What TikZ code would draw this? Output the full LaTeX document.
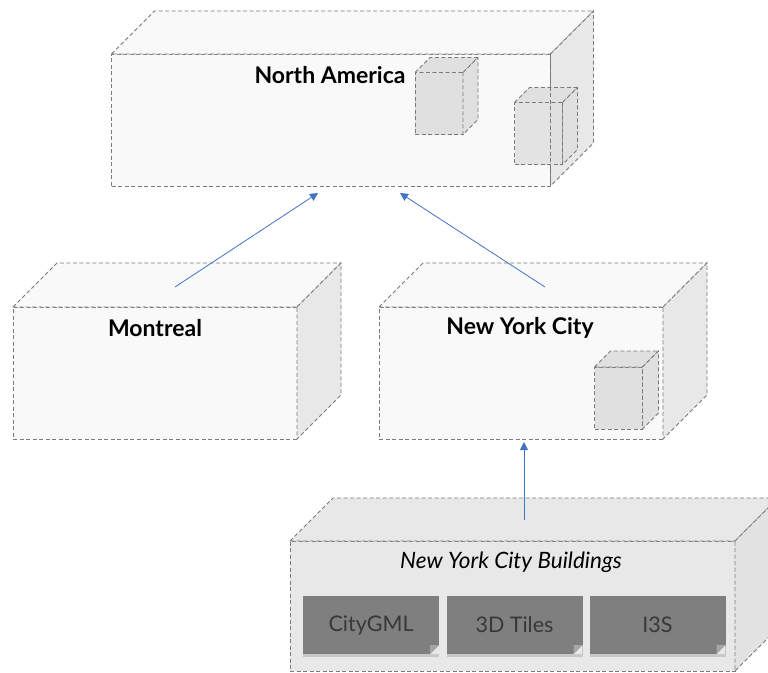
\documentclass[tikz,border=0pt]{standalone}
\usepackage{fontspec}
\setmainfont{Lato}
\usetikzlibrary{calc,shadows,arrows.meta}
\definecolor{edge}{HTML}{7A7A7A}
\definecolor{frontc}{HTML}{F9F9F9}
\definecolor{sidec}{HTML}{E8E8E8}
\definecolor{cubec}{HTML}{E0E0E0}
\definecolor{bldc}{HTML}{E8E8E8}
\definecolor{bldside}{HTML}{E2E2E2}
\definecolor{cardc}{HTML}{7F7F7F}
\definecolor{foldc}{HTML}{A6A6A6}
\definecolor{arrowc}{HTML}{4472C4}
\tikzset{
  x=1pt,y=-1pt,
  edgeline/.style={draw=edge,line width=0.9pt,dash pattern=on 4pt off 2.5pt},
  front/.style={edgeline,fill=frontc,inner sep=0pt,outer sep=0pt},
  minicube/.style={edgeline,fill=cubec,inner sep=0pt,outer sep=0pt,minimum width=48pt,minimum height=62pt},
  title/.style={font=\fontsize{23}{27}\selectfont\bfseries,text=black},
  card/.style={fill=cardc,inner sep=0pt,outer sep=0pt,minimum width=136pt,minimum height=58pt,
    text=black!78,font=\fontsize{21.5}{25}\selectfont,
    drop shadow={shadow xshift=0pt,shadow yshift=-3pt,opacity=0.3}},
  link/.style={draw=arrowc,line width=0.8pt,-{Triangle[length=8pt,width=8pt]}}
}
\newcommand\mycuboid[4]{%
  \path[edgeline,fill=#3]
    (#1.north west) -- ($(#1.north west)+(#2,-#2)$) -- ($(#1.north east)+(#2,-#2)$) -- (#1.north east) -- cycle;
  \path[edgeline,fill=#4]
    (#1.north east) -- ($(#1.north east)+(#2,-#2)$) -- ($(#1.south east)+(#2,-#2)$) -- (#1.south east) -- cycle;
}
\begin{document}
\begin{tikzpicture}
\useasboundingbox[fill=white] (0,0) rectangle (768,672);
% North America
\node[front,minimum width=439pt,minimum height=132pt] (na) at (331,120) {};
\mycuboid{na}{43}{frontc}{sidec}
\node[title] (natext) at (330,75) {North America};
\node[minicube] (c1) at (439,103.5) {};
\mycuboid{c1}{15}{cubec}{cubec}
\node[minicube,fill opacity=0.85] (c2) at (538.5,133.5) {};
\mycuboid{c2}{15}{cubec}{cubec}
\draw[edgeline] (na.north east) -- (na.south east);
% Montreal
\node[front,minimum width=284pt,minimum height=132pt] (mon) at (155,373) {};
\mycuboid{mon}{44}{frontc}{sidec}
\node[title] (montext) at (155,328) {Montreal};
% New York City
\node[front,minimum width=284pt,minimum height=132pt] (nyc) at (521,373) {};
\mycuboid{nyc}{44}{frontc}{sidec}
\node[title] (nyctext) at (520,328) {New York City};
\node[minicube] (c3) at (618.5,398) {};
\mycuboid{c3}{16}{cubec}{cubec}
% Buildings
\node[front,fill=bldc,minimum width=445pt,minimum height=130pt] (bld) at (512.5,606) {};
\mycuboid{bld}{43}{bldc}{bldside}
\node[font=\fontsize{22.5}{26}\selectfont\itshape] (bldtext) at (511,562) {New York City Buildings};
\node[card] (cg) at (371,625) {CityGML};
\node[card] (tiles) at (514.5,625) {3D Tiles};
\node[card] (i3s) at (657.5,625) {I3S};
\foreach \c in {cg,tiles,i3s}{
  \fill[bldc] ($(\c.south east)+(-9,0)$) -- (\c.south east) -- ($(\c.south east)+(0,-9)$) -- cycle;
  \fill[foldc] ($(\c.south east)+(-9,0)$) -- ($(\c.south east)+(-9,-9)$) -- ($(\c.south east)+(0,-9)$) -- cycle;
}
% connectors
\coordinate (m0) at ($(mon.north)+(20,-20)$);
\coordinate (m1) at ($(na.south)+(-13,7)$);
\coordinate (n0) at ($(nyc.north)+(24,-20)$);
\coordinate (n1) at ($(na.south)+(69,7)$);
\coordinate (b0) at ($(bld.north)+(11.5,-21)$);
\coordinate (b1) at ($(nyc.south)+(3,3)$);
\draw[link] (m0) -- (m1);
\draw[link] (n0) -- (n1);
\draw[link] (b0) -- (b1);
\end{tikzpicture}
\end{document}
